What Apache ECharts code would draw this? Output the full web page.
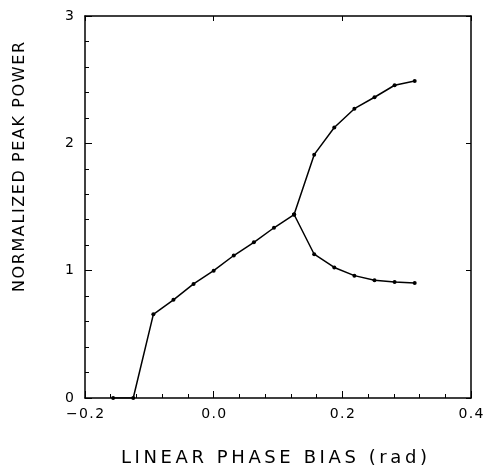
<!DOCTYPE html>
<html>
<head>
<meta charset="utf-8">
<script src="https://cdn.jsdelivr.net/npm/echarts@6/dist/echarts.min.js"></script>
<style>html,body{margin:0;padding:0;background:#fff;}#c{width:489px;height:472px;}</style>
</head>
<body>
<div id="c"></div>
<script>
// Data
var xTrunk = [-0.15625, -0.125, -0.09375, -0.0625, -0.03125, 0, 0.03125, 0.0625, 0.09375, 0.125];
var yTrunk = [0, 0, 0.657, 0.771, 0.896, 1.0, 1.119, 1.223, 1.337, 1.441];
var xUpper = [0.125, 0.15625, 0.1875, 0.21875, 0.25, 0.28125, 0.3125];
var yUpper = [1.441, 1.911, 2.124, 2.272, 2.362, 2.456, 2.490];
var xLower = [0.125, 0.15625, 0.1875, 0.21875, 0.25, 0.28125, 0.3125];
var yLower = [1.441, 1.129, 1.025, 0.961, 0.925, 0.911, 0.903];
var xTicks = [-0.2, 0.0, 0.2, 0.4];
var xTickLabels = ['\u22120.2', '0.0', '0.2', '0.4'];
var yTicks = [0, 1, 2, 3];
var yTickLabels = ['0', '1', '2', '3'];
var xTitle = 'LINEAR PHASE BIAS (rad)';
var yTitle = 'NORMALIZED PEAK POWER';

function pairs(xs, ys) { return xs.map(function (x, i) { return [x, ys[i]]; }); }
function spaced(s, sp) { return s.split('').join(sp); }

var FONT = 'DejaVu Sans';
var chart = echarts.init(document.getElementById('c'), null, { renderer: 'canvas' });

var lineStyle = { color: '#000', width: 1.5 };
function mkSeries(xs, ys) {
  return {
    type: 'line', data: pairs(xs, ys), symbol: 'circle', symbolSize: 4,
    itemStyle: { color: '#000' }, lineStyle: lineStyle, silent: true, animation: false,
    xAxisIndex: 0, yAxisIndex: 0
  };
}
var axisLine = { show: true, onZero: false, lineStyle: { color: '#000', width: 1.5 } };

chart.setOption({
  animation: false,
  grid: { left: 85, right: 18, top: 16, bottom: 71, containLabel: false },
  xAxis: [{
    type: 'value', min: -0.2, max: 0.4, interval: 0.2, position: 'bottom',
    axisLine: axisLine,
    axisTick: { show: true, inside: true, length: 7, lineStyle: { color: '#000', width: 1 } },
    minorTick: { show: true, splitNumber: 5, length: 4, lineStyle: { color: '#000', width: 1 } },
    splitLine: { show: false },
    axisLabel: {
      color: '#000', fontFamily: FONT, fontSize: 14, margin: 9,
      formatter: function (v) {
        var i = xTicks.findIndex(function (t) { return Math.abs(t - v) < 1e-9; });
        return i >= 0 ? spaced(xTickLabels[i], '\u200A') : '';
      }
    },
    name: spaced(xTitle, '\u2009'), nameLocation: 'middle', nameGap: 51,
    nameTextStyle: { color: '#000', fontFamily: FONT, fontSize: 18, padding: [0, 8, 0, 0] }
  }, {
    type: 'value', min: -0.2, max: 0.4, interval: 0.2, position: 'top',
    axisLine: axisLine,
    axisTick: { show: true, inside: true, length: 5, lineStyle: { color: '#000' } },
    axisLabel: { show: false }, splitLine: { show: false }
  }],
  yAxis: [{
    type: 'value', min: 0, max: 3, interval: 1, position: 'left',
    axisLine: axisLine,
    axisTick: { show: true, inside: true, length: 7, lineStyle: { color: '#000', width: 1 } },
    minorTick: { show: true, splitNumber: 5, length: 4, lineStyle: { color: '#000', width: 1 } },
    splitLine: { show: false },
    axisLabel: {
      color: '#000', fontFamily: FONT, fontSize: 14, margin: 11,
      formatter: function (v) {
        var i = yTicks.indexOf(v);
        return i >= 0 ? yTickLabels[i] : '';
      }
    }
  }, {
    type: 'value', min: 0, max: 3, interval: 1, position: 'right',
    axisLine: axisLine,
    axisTick: { show: true, inside: true, length: 5, lineStyle: { color: '#000' } },
    axisLabel: { show: false }, splitLine: { show: false }
  }],
  graphic: [{
    type: 'text', left: 12, top: 42, rotation: Math.PI / 2,
    style: { text: spaced(yTitle, '\u200A'), fill: '#000', font: '16px "DejaVu Sans"' }
  }],
  series: [mkSeries(xTrunk, yTrunk), mkSeries(xUpper, yUpper), mkSeries(xLower, yLower)]
});
</script>
</body>
</html>
